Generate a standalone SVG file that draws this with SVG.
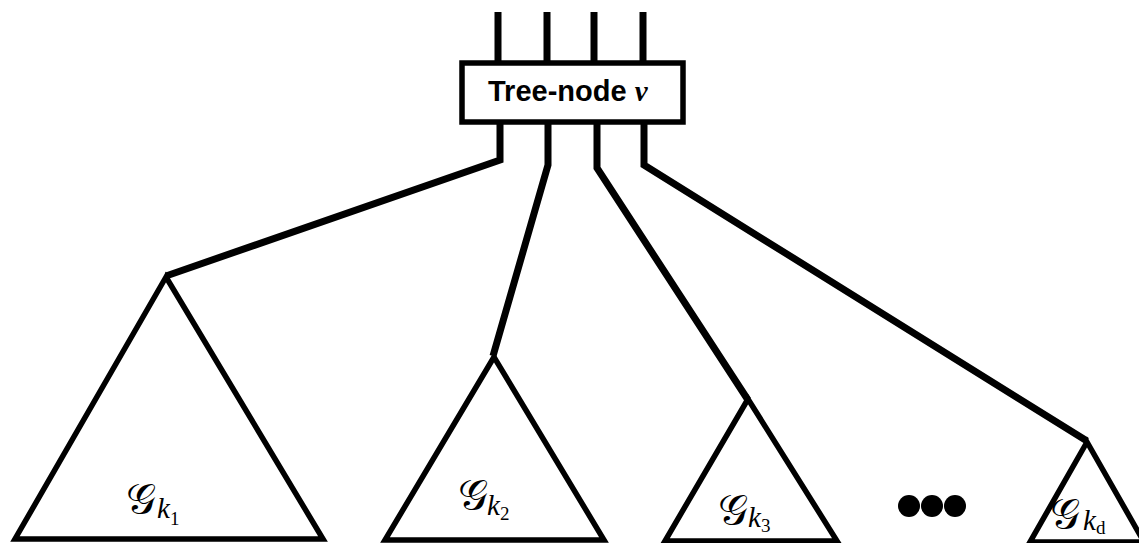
<svg xmlns="http://www.w3.org/2000/svg" width="1139" height="543" viewBox="0 0 1139 543">
<style>
.ln{fill:none;stroke:#000;stroke-width:7;stroke-linejoin:miter;stroke-linecap:butt}
.tri{fill:#fff;stroke:#000;stroke-width:5.5;stroke-linejoin:miter}
.box{fill:#fff;stroke:#000;stroke-width:5.5}
.lbl{font-family:"Liberation Sans",Arial,sans-serif;font-weight:bold;font-size:29px;fill:#000}
.g{font-family:"DejaVu Serif","Liberation Serif",serif;font-size:42px;fill:#000}
.k{font-family:"Liberation Serif",serif;font-style:italic;font-size:29px;fill:#000}
.s{font-family:"Liberation Serif",serif;font-style:normal;font-size:19px;fill:#000}
</style>
<rect width="1139" height="543" fill="#fff"/>
<g id="connectors">
<path class="ln" d="M498,12V63M547,12V63M594,12V63M643,12V63"/>
<path class="ln" d="M500,122V160L166,276"/>
<path class="ln" d="M548,122V165L493,356"/>
<path class="ln" d="M597,122V168L748,400"/>
<path class="ln" d="M644,122V165L1087,441"/>
</g>
<g id="tree-node">
<rect class="box" x="462" y="63" width="221" height="59"/>
<text class="lbl" x="488" y="101">Tree-node <tspan font-family="Liberation Serif,serif" font-style="italic" font-weight="bold">ν</tspan></text>
</g>
<g id="G1">
<polygon class="tri" points="166,277 15,539 323,539"/>
<text class="g" x="126" y="513">𝒢</text><text class="k" x="157" y="518">k<tspan class="s" dy="7">1</tspan></text>
</g>
<g id="G2">
<polygon class="tri" points="494,357 385,540 604,540"/>
<text class="g" x="458" y="509">𝒢</text><text class="k" x="487" y="515">k<tspan class="s" dy="5">2</tspan></text>
</g>
<g id="G3">
<polygon class="tri" points="748,399 665,541 837,541"/>
<text class="g" x="718" y="524">𝒢</text><text class="k" x="748" y="527">k<tspan class="s" dy="5">3</tspan></text>
</g>
<g id="dots">
<circle cx="909" cy="506" r="11"/><circle cx="932" cy="506" r="11"/><circle cx="955" cy="506" r="11"/>
</g>
<g id="Gd">
<polygon class="tri" points="1087,442 1030,542 1144,542"/>
<text class="g" x="1050" y="528">𝒢</text><text class="k" x="1083" y="530">k<tspan class="s" dy="4">d</tspan></text>
</g>
</svg>
